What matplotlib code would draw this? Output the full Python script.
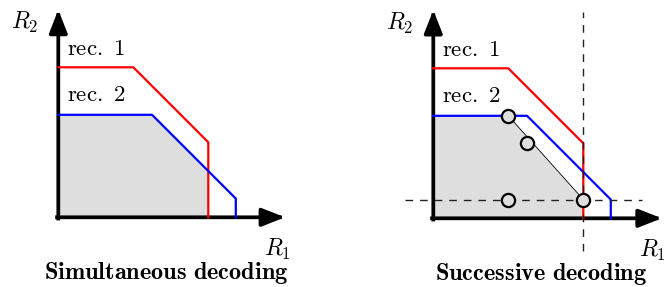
import numpy as np
import matplotlib

matplotlib.use("Agg")
import matplotlib.pyplot as plt

plt.rcParams["mathtext.fontset"] = "cm"

# rate-region boundaries (R1, R2), one per receiver
rec1_r1 = [0, 3, 6, 6]
rec1_r2 = [6, 6, 3, 0]
rec2_r1 = [0, 3.75, 7.1, 7.1]
rec2_r2 = [4.1, 4.1, 0.75, 0]

# successive decoding: corner points and achievable region
sic_r1 = [3, 3.75, 3, 6]
sic_r2 = [4.1, 3.0, 0.75, 0.75]
sic_seg_r1 = [3, 6]
sic_seg_r2 = [4.1, 0.75]
sic_fill_r1 = [0, 0, 3, 6, 6]
sic_fill_r2 = [0, 4.1, 4.1, 0.75, 0]
dash_r1 = 6
dash_r2 = 0.75

titles = ["Simultaneous decoding", "Successive decoding"]

RED, BLUE, GRAY = "#ff0000", "#0000ff", "#dedede"
PX = 25.0  # pixels per rate unit

fig = plt.figure(figsize=(6.68, 2.87), dpi=100)
W, H = 668, 287


def make_axes(x0, x1, ox, oy):
    # ox, oy: origin position in pixels (from left / from top)
    ax = fig.add_axes([x0 / W, 0, (x1 - x0) / W, 1])
    ax.set_xlim(-(ox - x0) / PX, (x1 - ox) / PX)
    ax.set_ylim(-(H - oy) / PX, oy / PX)
    ax.axis("off")
    return ax


def draw_frame(ax, xtip, ytip, title):
    arrow = dict(arrowstyle="-|>,head_length=1.4,head_width=0.55", lw=2.7,
                 color="black", mutation_scale=10, shrinkA=0, shrinkB=0,
                 capstyle="projecting")
    ax.annotate("", xy=(xtip, 0), xytext=(-0.05, 0), arrowprops=arrow, zorder=2)
    ax.annotate("", xy=(0, ytip), xytext=(0, -0.05), arrowprops=arrow, zorder=2)
    ax.text(-1.88, 7.52, r"$R_2$", fontsize=17, va="baseline", ha="left")
    ax.text(8.24, -1.55, r"$R_1$", fontsize=17, va="baseline", ha="left")
    ax.text(0.34, 6.48, r"$\mathrm{rec.\ 1}$", fontsize=16.5, va="baseline", ha="left")
    ax.text(0.34, 4.64, r"$\mathrm{rec.\ 2}$", fontsize=16.5, va="baseline", ha="left")
    ax.text(4.33, -2.45, r"$\mathbf{%s}$" % title.replace(" ", r"\ "), fontsize=17.5,
            va="baseline", ha="center")


# --- left: simultaneous decoding ---
ax = make_axes(0, 334, 58.3, 217.3)
grid = np.linspace(0, 6, 400)
b1 = np.interp(grid, rec1_r1[:3], rec1_r2[:3])
b2 = np.interp(grid, rec2_r1[:3], rec2_r2[:3])
ax.fill_between(np.r_[grid, 6], np.r_[np.minimum(b1, b2), 0], 0, color=GRAY, lw=0)
ax.plot(rec1_r1, rec1_r2, color=RED, lw=1.6, zorder=3)
ax.plot(rec2_r1, rec2_r2, color=BLUE, lw=1.6, zorder=3)
draw_frame(ax, 9.07, 8.3, titles[0])

# --- right: successive decoding ---
ax = make_axes(334, 668, 433.3, 218.3)
ax.fill(sic_fill_r1, sic_fill_r2, color=GRAY, lw=0)
ax.plot(rec1_r1, rec1_r2, color=RED, lw=1.6, zorder=3)
ax.plot(rec2_r1, rec2_r2, color=BLUE, lw=1.6, zorder=3)
ax.plot(sic_seg_r1, sic_seg_r2, color="black", lw=0.6, zorder=3)
ax.plot([dash_r1, dash_r1], [-1.3, 8.25], color="#222222", lw=1.0,
        dashes=(5.5, 5), zorder=4)
ax.plot([-1.13, 8.34], [dash_r2, dash_r2], color="#222222", lw=1.0,
        dashes=(5.5, 5), zorder=4)
ax.plot(sic_r1, sic_r2, "o", ms=9.5, mfc=GRAY, mec="black", mew=1.6, zorder=6)
draw_frame(ax, 9.14, 8.33, titles[1])

fig.savefig("out.png", dpi=100)
